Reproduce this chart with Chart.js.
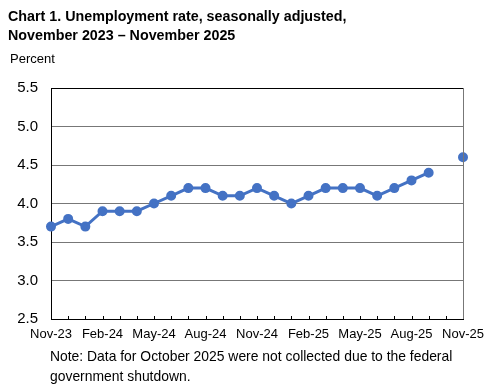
<!DOCTYPE html>
<html>
<head>
<meta charset="utf-8">
<script src="https://cdn.jsdelivr.net/npm/chart.js@4"></script>
<style>
  body { margin: 0; background: #fff; font-family: "Liberation Sans", Arial, sans-serif; }
  #wrap { position: relative; width: 488px; height: 386px; }
  #title { position: absolute; left: 8px; top: 7px; font-weight: bold; font-size: 14.3px; line-height: 19px; color: #000; }
  #unit { position: absolute; left: 10px; top: 51px; font-size: 13px; color: #000; }
  #note { position: absolute; left: 50px; top: 346px; font-size: 13.9px; line-height: 20px; color: #000; }
  canvas { position: absolute; left: 0; top: 0; }
</style>
</head>
<body>
<div id="wrap">
  <canvas id="chart" width="488" height="386"></canvas>
  <div id="title">Chart 1. Unemployment rate, seasonally adjusted,<br>November 2023 – November 2025</div>
  <div id="unit">Percent</div>
  <div id="note">Note: Data for October 2025 were not collected due to the federal<br>government shutdown.</div>
</div>
<script>
const months = [
  "Nov-23", "Dec-23", "Jan-24", "Feb-24", "Mar-24", "Apr-24", "May-24", "Jun-24", "Jul-24",
  "Aug-24", "Sep-24", "Oct-24", "Nov-24", "Dec-24", "Jan-25", "Feb-25", "Mar-25", "Apr-25",
  "May-25", "Jun-25", "Jul-25", "Aug-25", "Sep-25", "Oct-25", "Nov-25"
];
// October 2025 not collected
const rate = [3.7, 3.8, 3.7, 3.9, 3.9, 3.9, 4.0, 4.1, 4.2, 4.2, 4.1, 4.1, 4.2, 4.1, 4.0, 4.1, 4.2, 4.2, 4.2, 4.1, 4.2, 4.3, 4.4, null, 4.6];
const yTicks = [2.5, 3.0, 3.5, 4.0, 4.5, 5.0, 5.5];

// small inward tick marks on the x axis + right border
const axisMarks = {
  id: 'axisMarks',
  afterDraw(chart) {
    const { ctx, chartArea, scales } = chart;
    ctx.save();
    ctx.strokeStyle = '#000';
    ctx.lineWidth = 1;
    months.forEach((m, i) => {
      const x = Math.round(scales.x.getPixelForValue(i)) + 0.5;
      ctx.beginPath();
      ctx.moveTo(x, chartArea.bottom);
      ctx.lineTo(x, chartArea.bottom - 3);
      ctx.stroke();
    });
    ctx.strokeStyle = '#777';
    ctx.beginPath();
    ctx.moveTo(chartArea.right + 0.5, chartArea.top);
    ctx.lineTo(chartArea.right + 0.5, chartArea.bottom);
    ctx.stroke();
    ctx.restore();
  }
};

const ctx = document.getElementById('chart').getContext('2d');
new Chart(ctx, {
  type: 'line',
  data: {
    labels: months,
    datasets: [{
      label: 'Unemployment rate',
      data: rate,
      borderColor: '#4472C4',
      backgroundColor: '#4472C4',
      borderWidth: 3,
      pointRadius: 3.5,
      pointHoverRadius: 3.5,
      spanGaps: false,
      tension: 0
    }]
  },
  options: {
    responsive: false,
    animation: false,
    layout: { padding: { top: 88, right: 25, left: 0, bottom: 0 } },
    plugins: { legend: { display: false }, tooltip: { enabled: false } },
    scales: {
      x: {
        offset: false,
        grid: { display: false, drawTicks: false },
        border: { color: '#000', width: 1 },
        afterFit: s => { s.height = 67; s.paddingLeft = 0; s.paddingRight = 0; },
        ticks: {
          autoSkip: false,
          maxRotation: 0,
          padding: 8,
          color: '#000',
          font: { family: 'Liberation Sans', size: 13 },
          callback: (v, i) => (i % 3 === 0 ? months[i] : '')
        }
      },
      y: {
        min: 2.5,
        max: 5.5,
        afterFit: s => { s.width = 51; s.paddingTop = 0; s.paddingBottom = 0; },
        afterBuildTicks: s => { s.ticks = yTicks.map(v => ({ value: v })); },
        border: { color: '#000', width: 1 },
        grid: {
          drawTicks: false,
          color: c => (c.tick.value === 5.5 || c.tick.value === 2.5 ? '#000' : '#777'),
          lineWidth: 1
        },
        ticks: {
          padding: 13,
          color: '#000',
          font: { family: 'Liberation Sans', size: 15 },
          callback: v => v.toFixed(1)
        }
      }
    }
  },
  plugins: [axisMarks]
});
</script>
</body>
</html>
